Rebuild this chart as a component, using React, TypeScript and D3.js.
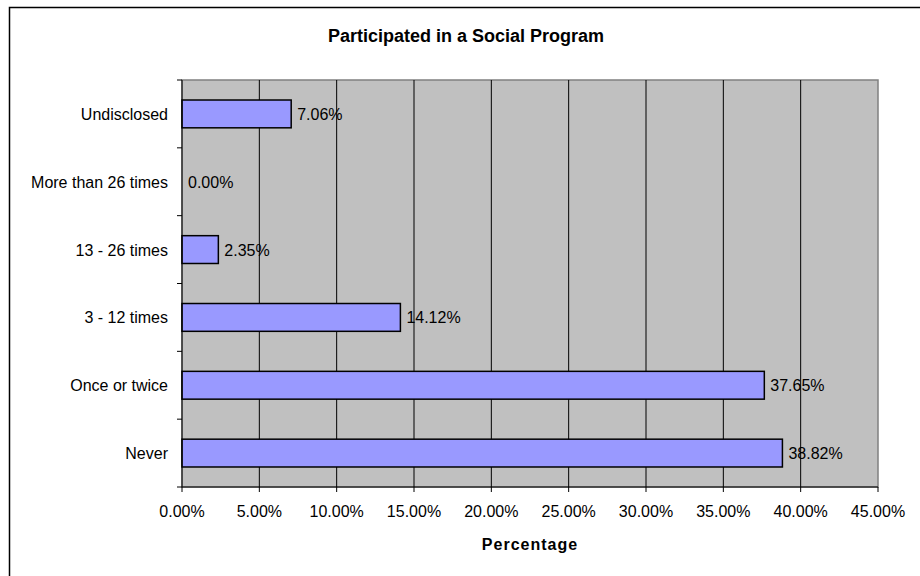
import React from "react";
import * as d3 from "d3";

const categories = ["Undisclosed", "More than 26 times", "13 - 26 times", "3 - 12 times", "Once or twice", "Never"];
const values = [7.06, 0.0, 2.35, 14.12, 37.65, 38.82];
const xTicks = [0, 5, 10, 15, 20, 25, 30, 35, 40, 45];
const title = "Participated in a Social Program";
const xTitle = "Percentage";

const W = 920;
const H = 576;
const plot = { left: 182, right: 878, top: 80, bottom: 487 };
const font = "Liberation Sans, Arial, sans-serif";

export default function App() {
  const x = d3.scaleLinear().domain([0, 45]).range([plot.left, plot.right]);
  const band = (plot.bottom - plot.top) / categories.length;
  const y = d3.scaleBand<string>().domain(categories).range([plot.top, plot.bottom]);
  const boundaries = d3.range(categories.length + 1).map((i) => plot.top + i * band);
  const barH = band * 0.41;

  return (
    <svg width={W} height={H} style={{ position: "absolute", left: 0, top: 0 }} fontFamily={font}>
      <rect x={0} y={0} width={W} height={H} fill="#fff" />
      <rect x={9.5} y={7.5} width={W + 20} height={H + 20} fill="none" stroke="#000" strokeWidth={1.5} />
      <text x={466} y={42} textAnchor="middle" fontSize={18} fontWeight="bold">
        {title}
      </text>
      <rect x={plot.left} y={plot.top} width={plot.right - plot.left} height={plot.bottom - plot.top} fill="#C0C0C0" stroke="#808080" strokeWidth={1.5} />
      {xTicks.slice(1, -1).map((t) => (
        <line key={"g" + t} x1={x(t)} x2={x(t)} y1={plot.top} y2={plot.bottom} stroke="#000" strokeWidth={1} />
      ))}
      {categories.map((c, i) => {
        const cy = (y(c) as number) + y.bandwidth() / 2;
        const v = values[i];
        return (
          <g key={c}>
            {v > 0 && (
              <rect x={x(0)} y={cy - barH / 2} width={x(v) - x(0)} height={barH} fill="#9999FF" stroke="#000" strokeWidth={1.5} />
            )}
            <text x={x(v) + 6} y={cy + 6} fontSize={16}>
              {v.toFixed(2) + "%"}
            </text>
            <text x={168} y={cy + 6} fontSize={16} textAnchor="end">
              {c}
            </text>
          </g>
        );
      })}
      <line x1={plot.left} x2={plot.left} y1={plot.top} y2={plot.bottom} stroke="#000" strokeWidth={1} />
      <line x1={plot.left} x2={plot.right} y1={plot.bottom} y2={plot.bottom} stroke="#000" strokeWidth={1} />
      {boundaries.map((b, i) => (
        <line key={"yt" + i} x1={plot.left - 5} x2={plot.left} y1={b} y2={b} stroke="#000" strokeWidth={1} />
      ))}
      {xTicks.map((t) => (
        <g key={"xt" + t}>
          <line x1={x(t)} x2={x(t)} y1={plot.bottom} y2={plot.bottom + 5} stroke="#000" strokeWidth={1} />
          <text x={x(t)} y={517} textAnchor="middle" fontSize={16}>
            {t.toFixed(2) + "%"}
          </text>
        </g>
      ))}
      <text x={(plot.left + plot.right) / 2} y={550} textAnchor="middle" fontSize={16} fontWeight="bold" letterSpacing={1}>
        {xTitle}
      </text>
    </svg>
  );
}
